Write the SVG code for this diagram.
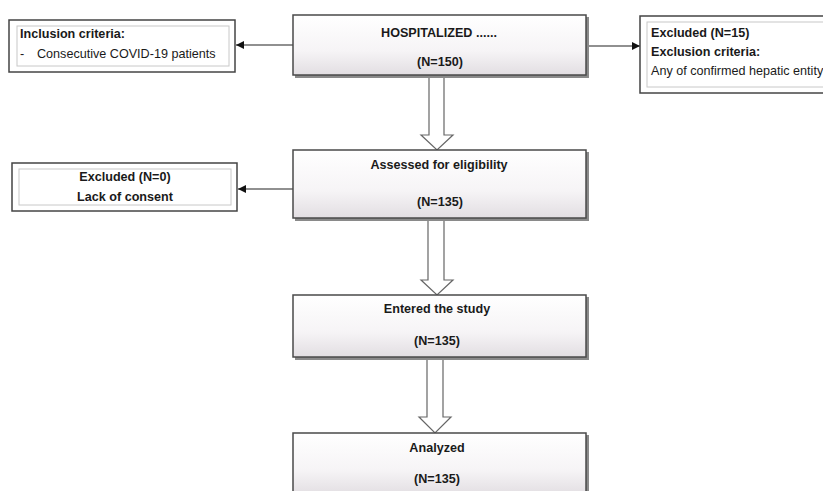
<svg xmlns="http://www.w3.org/2000/svg" width="823" height="491" viewBox="0 0 823 491">
<defs>
<linearGradient id="g" x1="0" y1="0" x2="0" y2="1">
<stop offset="0" stop-color="#ffffff"/>
<stop offset="0.6" stop-color="#f6f4f6"/>
<stop offset="1" stop-color="#e2dee2"/>
</linearGradient>
<marker id="ah" viewBox="0 0 10 10" refX="10" refY="5" markerWidth="8" markerHeight="8" markerUnits="userSpaceOnUse" orient="auto">
<path d="M0,0 L10,5 L0,10 z" fill="#111"/>
</marker>
</defs>
<style>
.shadow{fill:#8a8a8a;}
.main{fill:url(#g);stroke:#4a4a4a;stroke-width:1.5;}
.side{fill:#fff;stroke:#444;stroke-width:1.5;}
.inner{fill:none;stroke:#c8c8c8;stroke-width:1;}
.t{font-family:"Liberation Sans",Arial,sans-serif;font-size:12.6px;fill:#1a1a1a;}
.b{font-weight:bold;}
.c{text-anchor:middle;}
.line{stroke:#222;stroke-width:1.2;fill:none;}
.blk{fill:#fff;stroke:#666;stroke-width:1.2;}
</style>

<g id="connectors">
<line class="line" x1="293" y1="45" x2="236" y2="45" marker-end="url(#ah)"/>
<line class="line" x1="587" y1="46" x2="640" y2="46" marker-end="url(#ah)"/>
<line class="line" x1="293" y1="189" x2="238" y2="189" marker-end="url(#ah)"/>
<path class="blk" d="M429,77 L444,77 L444,135 L453,135 L437,150 L421,135 L429,135 Z"/>
<path class="blk" d="M428,220 L444,220 L444,280 L453,280 L437,295 L421,280 L428,280 Z"/>
<path class="blk" d="M427,358 L443,358 L443,417 L451,417 L435,433 L419,417 L427,417 Z"/>
</g>

<g id="hospitalized">
<rect class="shadow" x="295" y="17" width="294" height="61"/>
<rect class="main" x="293" y="15" width="293" height="60"/>
<text class="t b c" x="439" y="37">HOSPITALIZED ......</text>
<text class="t b c" x="440" y="66">(N=150)</text>
</g>

<g id="inclusion">
<rect class="side" x="9" y="20" width="226" height="52"/>
<rect class="inner" x="17" y="26" width="212" height="40"/>
<text class="t b" x="20" y="38">Inclusion criteria:</text>
<text class="t" x="20" y="58">-</text>
<text class="t" x="37" y="58">Consecutive COVID-19 patients</text>
</g>

<g id="excluded15">
<rect class="side" x="640" y="16" width="190" height="77"/>
<rect class="inner" x="647" y="22" width="190" height="65"/>
<text class="t b" x="651" y="37">Excluded (N=15)</text>
<text class="t b" x="651" y="56">Exclusion criteria:</text>
<text class="t" x="651" y="75">Any of confirmed hepatic entity</text>
</g>

<g id="assessed">
<rect class="shadow" x="295" y="152" width="294" height="69"/>
<rect class="main" x="293" y="150" width="293" height="68"/>
<text class="t b c" x="439" y="169">Assessed for eligibility</text>
<text class="t b c" x="440" y="206">(N=135)</text>
</g>

<g id="excluded0">
<rect class="side" x="12" y="163" width="225" height="48"/>
<rect class="inner" x="19" y="169" width="212" height="36"/>
<text class="t b c" x="125" y="181">Excluded (N=0)</text>
<text class="t b c" x="125" y="201">Lack of consent</text>
</g>

<g id="entered">
<rect class="shadow" x="295" y="297" width="294" height="63"/>
<rect class="main" x="293" y="295" width="293" height="62"/>
<text class="t b c" x="437" y="313">Entered the study</text>
<text class="t b c" x="437" y="345">(N=135)</text>
</g>

<g id="analyzed">
<rect class="shadow" x="295" y="435" width="294" height="62"/>
<rect class="main" x="293" y="433" width="293" height="62"/>
<text class="t b c" x="437" y="452">Analyzed</text>
<text class="t b c" x="437" y="483">(N=135)</text>
</g>
</svg>
